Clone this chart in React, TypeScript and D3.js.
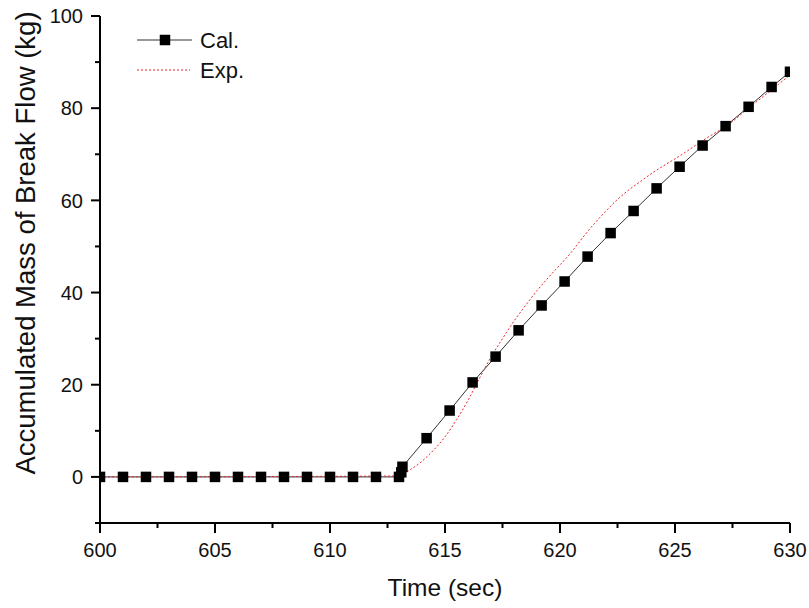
import * as d3 from "d3";

// Cal. series (time s, mass kg)
const calTime = [
  600, 601, 602, 603, 604, 605, 606, 607, 608, 609, 610, 611, 612, 613, 613.1, 613.15,
  614.2, 615.2, 616.2, 617.2, 618.2, 619.2, 620.2, 621.2, 622.2, 623.2, 624.2, 625.2,
  626.2, 627.2, 628.2, 629.2, 630,
];
const calMass = [
  0, 0, 0, 0, 0, 0, 0, 0, 0, 0, 0, 0, 0, 0, 1.0, 2.2,
  8.4, 14.4, 20.5, 26.1, 31.8, 37.2, 42.4, 47.8, 52.9, 57.7, 62.6, 67.3,
  71.9, 76.1, 80.3, 84.6, 87.9,
];

// Exp. series
const expTime = [
  600, 613, 613.5, 614, 614.5, 615, 615.5, 616, 616.5, 617, 617.5, 618, 618.5, 619, 619.5,
  620, 620.5, 621, 621.5, 622, 622.5, 623, 623.5, 624, 624.5, 625, 625.5, 626, 626.5,
  627, 627.5, 628, 628.5, 629, 629.5, 630,
];
const expMass = [
  0, 0.2, 1.6, 3.4, 5.8, 8.7, 12.4, 16.6, 21.4, 26.0, 30.0, 33.8, 37.2, 40.4, 43.3,
  46.0, 48.8, 52.0, 55.0, 57.7, 60.2, 62.3, 64.1, 65.9, 67.5, 69.0, 70.6, 72.3, 73.9,
  75.4, 77.1, 79.2, 81.2, 83.2, 85.2, 87.2,
];

const xMajor = [600, 605, 610, 615, 620, 625, 630];
const xMinor = [602.5, 607.5, 612.5, 617.5, 622.5, 627.5];
const yMajor = [0, 20, 40, 60, 80, 100];
const yMinor = [-10, 10, 30, 50, 70, 90];

const font = "Arial, 'Liberation Sans', sans-serif";

export default function App() {
  const left = 100, right = 790, top = 16, bottom = 523;
  const x = d3.scaleLinear().domain([600, 630]).range([left, right]);
  const y = d3.scaleLinear().domain([-10, 100]).range([bottom, top]);

  const cal = calTime.map((t, i) => [t, calMass[i]] as [number, number]);
  const exp = expTime.map((t, i) => [t, expMass[i]] as [number, number]);

  const line = d3.line<[number, number]>().x((d) => x(d[0])).y((d) => y(d[1]));
  const smooth = d3
    .line<[number, number]>()
    .x((d) => x(d[0]))
    .y((d) => y(d[1]))
    .curve(d3.curveMonotoneX);

  const sq = 10.5;

  return (
    <svg
      width={809}
      height={608}
      style={{ position: "absolute", left: 0, top: 0, background: "#fff" }}
      fontFamily={font}
    >
      <defs>
        <clipPath id="plot">
          <rect x={left} y={top - 6} width={right - left} height={bottom - top + 6} />
        </clipPath>
      </defs>

      <g clipPath="url(#plot)">
        <path d={line(cal) || ""} fill="none" stroke="#333" strokeWidth={1} />
        <path
          d={smooth(exp) || ""}
          fill="none"
          stroke="#e8262b"
          strokeWidth={1}
          strokeDasharray="2,2"
        />
        {cal.map((d, i) => (
          <rect
            key={i}
            x={x(d[0]) - sq / 2}
            y={y(d[1]) - sq / 2}
            width={sq}
            height={sq}
            fill="#000"
          />
        ))}
      </g>

      {/* axes */}
      <line x1={left} x2={left} y1={top} y2={bottom + 1} stroke="#000" strokeWidth={2} />
      <line x1={left - 1} x2={right} y1={bottom} y2={bottom} stroke="#000" strokeWidth={2} />

      {yMajor.map((v) => (
        <g key={v}>
          <line x1={left - 9} x2={left} y1={y(v)} y2={y(v)} stroke="#000" strokeWidth={2} />
          <text x={83} y={y(v)} dy="0.36em" textAnchor="end" fontSize={20} fill="#111">
            {v}
          </text>
        </g>
      ))}
      {yMinor.map((v) => (
        <line key={v} x1={left - 5} x2={left} y1={y(v)} y2={y(v)} stroke="#000" strokeWidth={2} />
      ))}
      {xMajor.map((v) => (
        <g key={v}>
          <line x1={x(v)} x2={x(v)} y1={bottom} y2={bottom + 10} stroke="#000" strokeWidth={2} />
          <text x={x(v)} y={557} textAnchor="middle" fontSize={20} fill="#111">
            {v}
          </text>
        </g>
      ))}
      {xMinor.map((v) => (
        <line key={v} x1={x(v)} x2={x(v)} y1={bottom} y2={bottom + 5} stroke="#000" strokeWidth={2} />
      ))}

      <text x={(left + right) / 2} y={596} textAnchor="middle" fontSize={24.5} fill="#111">
        Time (sec)
      </text>
      <text
        transform="translate(35,243) rotate(-90)"
        textAnchor="middle"
        fontSize={27.5}
        fill="#111"
      >
        Accumulated Mass of Break Flow (kg)
      </text>

      {/* legend */}
      <line x1={137} x2={192} y1={40} y2={40} stroke="#333" strokeWidth={1} />
      <rect x={165 - sq / 2} y={40 - sq / 2} width={sq} height={sq} fill="#000" />
      <text x={200} y={48} fontSize={22} fill="#111">
        Cal.
      </text>
      <line
        x1={137}
        x2={190}
        y1={70}
        y2={70}
        stroke="#e8262b"
        strokeWidth={1}
        strokeDasharray="2,2"
      />
      <text x={200} y={78} fontSize={22} fill="#111">
        Exp.
      </text>
    </svg>
  );
}
